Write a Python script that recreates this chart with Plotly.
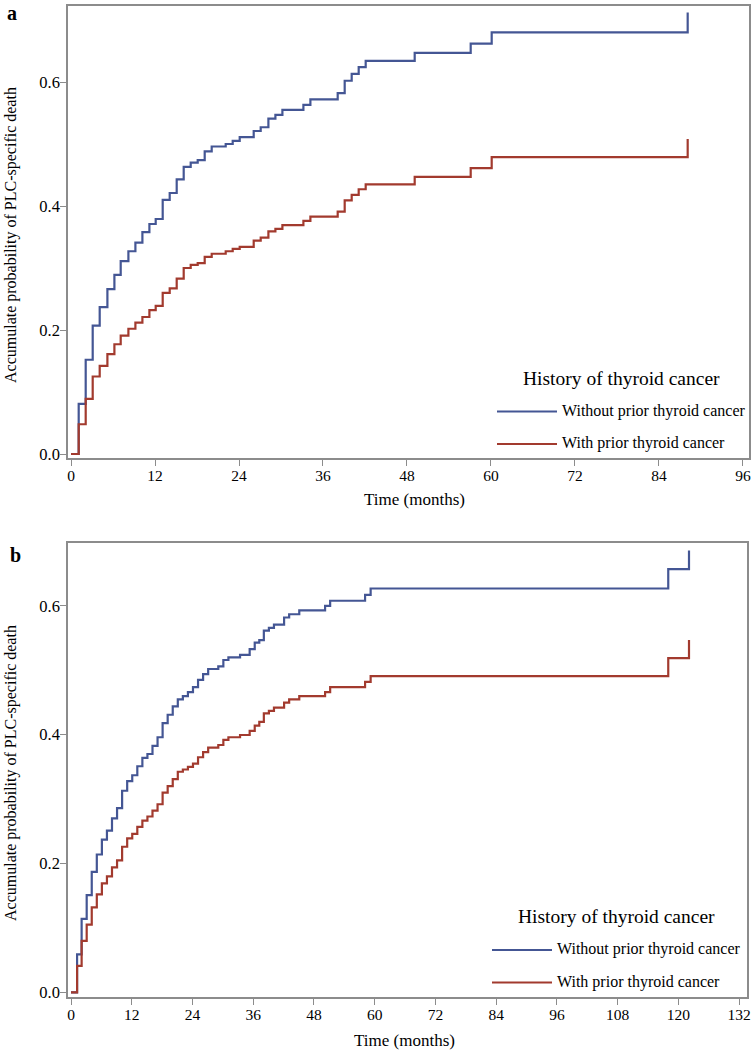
import plotly.graph_objects as go

# ---------------- data ----------------
time_a = [0, 1.1, 2.1, 3.1, 4.1, 5.2, 6.2, 7.1, 8.2, 9.2, 10.2, 11.2, 12.1, 13.1, 14.1,
          15.1, 16.1, 17.1, 18.1, 19.1, 20.1, 22.1, 23.1, 24.1, 26.1, 27.1, 28.2, 29.2,
          30.2, 33.2, 34.2, 38.1, 39.1, 40.1, 41.1, 42.1, 49.1, 57.1, 60.1, 88.1]
without_a = [0, 0.081, 0.152, 0.207, 0.237, 0.266, 0.289, 0.311, 0.327, 0.341, 0.358,
             0.371, 0.379, 0.410, 0.421, 0.443, 0.463, 0.470, 0.474, 0.488, 0.496, 0.500,
             0.505, 0.511, 0.521, 0.527, 0.541, 0.547, 0.555, 0.563, 0.572, 0.582, 0.602,
             0.613, 0.624, 0.634, 0.647, 0.662, 0.680, 0.712]
with_a = [0, 0.048, 0.089, 0.125, 0.142, 0.161, 0.177, 0.191, 0.202, 0.212, 0.221, 0.232,
          0.239, 0.260, 0.267, 0.283, 0.300, 0.305, 0.308, 0.318, 0.323, 0.327, 0.331,
          0.334, 0.344, 0.349, 0.359, 0.363, 0.369, 0.376, 0.383, 0.391, 0.409, 0.418,
          0.427, 0.435, 0.447, 0.461, 0.479, 0.508]

time_b = [0, 1.2, 2.1, 3.1, 4.1, 5.1, 6.1, 7.1, 8.1, 9.1, 10.1, 11.1, 12.1, 13.1, 14.1,
          15.1, 16.1, 17.1, 18.1, 19.1, 20.1, 21.1, 22.1, 23.1, 24.1, 25.1, 26.1, 27.1,
          29.1, 30.1, 31.1, 33.4, 35.3, 36.3, 37.2, 38.1, 39.1, 40.1, 42.1, 43.1, 45.1,
          50.2, 51.2, 58.1, 59.2, 118.0, 122.1]
without_b = [0, 0.059, 0.114, 0.151, 0.187, 0.214, 0.237, 0.251, 0.270, 0.286, 0.313,
             0.328, 0.337, 0.351, 0.364, 0.370, 0.3825, 0.396, 0.418, 0.431, 0.444,
             0.455, 0.460, 0.466, 0.474, 0.485, 0.494, 0.502, 0.506, 0.516, 0.520,
             0.524, 0.533, 0.543, 0.547, 0.5615, 0.566, 0.571, 0.582, 0.587, 0.593,
             0.600, 0.608, 0.617, 0.627, 0.657, 0.686]
with_b = [0, 0.041, 0.080, 0.105, 0.132, 0.152, 0.169, 0.180, 0.194, 0.205, 0.226,
          0.239, 0.246, 0.257, 0.2665, 0.273, 0.282, 0.292, 0.310, 0.320, 0.331,
          0.3425, 0.346, 0.350, 0.355, 0.365, 0.373, 0.380, 0.384, 0.392, 0.396,
          0.3995, 0.406, 0.414, 0.420, 0.433, 0.437, 0.442, 0.4497, 0.455, 0.460,
          0.466, 0.474, 0.482, 0.491, 0.519, 0.547]

series_names = ["Without prior thyroid cancer", "With prior thyroid cancer"]
legend_title = "History of thyroid cancer"
x_title = "Time (months)"
y_title = "Accumulate probability of PLC-specific death"
x_ticks_a = [0, 12, 24, 36, 48, 60, 72, 84, 96]
x_ticks_b = [0, 12, 24, 36, 48, 60, 72, 84, 96, 108, 120, 132]
y_ticks = [0.0, 0.2, 0.4, 0.6]
panel_labels = ["a", "b"]

# ---------------- style ----------------
W, H = 751, 1050
BLUE = "#445694"
RED = "#A23A2E"
GRAY = "#8c8c8c"
FONT = "Liberation Serif"


def px(x):
    return x / W


def py(y):
    return 1 - y / H


fig = go.Figure()

for xs, ys, col, ax in [
    (time_a, without_a, BLUE, ("x", "y")),
    (time_a, with_a, RED, ("x", "y")),
    (time_b, without_b, BLUE, ("x2", "y2")),
    (time_b, with_b, RED, ("x2", "y2")),
]:
    fig.add_trace(go.Scatter(x=xs, y=ys, mode="lines", line=dict(color=col, width=2.2, shape="hv"),
                             xaxis=ax[0], yaxis=ax[1], showlegend=False, hoverinfo="skip"))

axis_common = dict(showline=True, linecolor=GRAY, linewidth=1.6, mirror=True,
                   ticks="outside", ticklen=6, tickwidth=1.4, tickcolor=GRAY,
                   showgrid=False, zeroline=False, automargin=False)
xfont = dict(family=FONT, size=15.5, color="#000000")
yfont = dict(family=FONT, size=16.5, color="#000000")

fig.update_layout(
    template="none",
    width=W, height=H, autosize=False,
    margin=dict(l=0, r=0, t=0, b=0, pad=0),
    paper_bgcolor="white", plot_bgcolor="white",
    xaxis=dict(domain=[px(68), px(749)], range=[-0.429, 96.86], tickvals=x_ticks_a,
               anchor="y", tickfont=xfont, ticklabelstandoff=-3, **axis_common),
    yaxis=dict(domain=[py(458), py(5.5)], range=[-0.00645, 0.7234], tickvals=y_ticks,
               tickformat=".1f", anchor="x", tickfont=yfont, ticklabelstandoff=-3, **axis_common),
    xaxis2=dict(domain=[px(68), px(746.7)], range=[-0.593, 133.5], tickvals=x_ticks_b,
                anchor="y2", tickfont=xfont, ticklabelstandoff=-3, **axis_common),
    yaxis2=dict(domain=[py(996.7), py(543.3)], range=[-0.00683, 0.6972], tickvals=y_ticks,
                tickformat=".1f", anchor="x2", tickfont=yfont, ticklabelstandoff=-3, **axis_common),
)

annots = []
shapes = []


def text(x, y, s, size, xanchor="center", angle=0, bold=False):
    annots.append(dict(x=px(x), y=py(y), xref="paper", yref="paper", text=("<b>%s</b>" % s) if bold else s,
                       showarrow=False, xanchor=xanchor, yanchor="middle", textangle=angle,
                       font=dict(family=FONT, size=size, color="#000000")))


# axis titles
text(414, 499, x_title, 17)
text(404, 1040, x_title, 17)
text(11, 235, y_title, 16, angle=-90)
text(11, 773, y_title, 16, angle=-90)

# panel labels
text(12, 13, panel_labels[0], 20, bold=True)
text(15, 555, panel_labels[1], 20, bold=True)

# legends (drawn in the plot area)
for (tx, ty, lx0, lx1, ly1, ly2, tx0) in [
    (621, 378, 497, 557, 411.5, 444, 560),
    (616, 916, 492, 552, 950, 982.5, 555),
]:
    text(tx, ty, legend_title, 19.5)
    for ly, col, name in [(ly1, BLUE, series_names[0]), (ly2, RED, series_names[1])]:
        shapes.append(dict(type="line", xref="paper", yref="paper", x0=px(lx0), x1=px(lx1),
                           y0=py(ly), y1=py(ly), line=dict(color=col, width=2.2)))
        text(tx0, ly - 1, name, 16, xanchor="left")

fig.update_layout(annotations=annots, shapes=shapes)

fig.write_html("out.html", config={"displayModeBar": False},
               post_script="document.body.style.margin='0';document.body.style.overflow='hidden';")
